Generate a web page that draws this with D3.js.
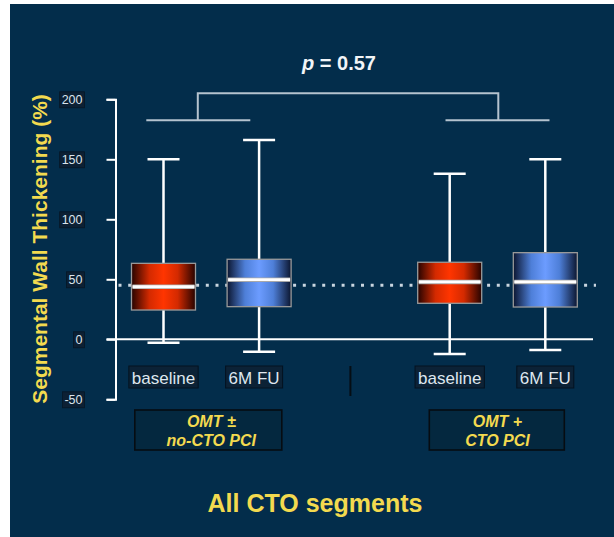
<!DOCTYPE html>
<html><head><meta charset="utf-8">
<script src="https://cdn.jsdelivr.net/npm/d3@7"></script>
<style>
html,body{margin:0;padding:0;background:#fff;}
svg{display:block;font-family:"Liberation Sans",Arial,sans-serif;}
</style></head>
<body><svg id="chart" width="614" height="537"></svg>
<script>
// ---- data ----
const groups = ["OMT ± no-CTO PCI", "OMT + CTO PCI"];
const groupLabelLines = [["OMT ±", "no-CTO PCI"], ["OMT +", "CTO PCI"]];
const conditions = ["baseline", "6M FU"];
const boxGroup = ["OMT ± no-CTO PCI", "OMT ± no-CTO PCI", "OMT + CTO PCI", "OMT + CTO PCI"];
const boxCondition = ["baseline", "6M FU", "baseline", "6M FU"];
const whiskerLow = [-2.8, -10.3, -12.2, -8.9];
const q1 = [24.4, 27.2, 30.0, 26.9];
const median = [43.8, 49.7, 47.8, 47.8];
const q3 = [63.3, 66.7, 64.2, 72.2];
const whiskerHigh = [150, 166, 138, 150];
const yTicks = [-50, 0, 50, 100, 150, 200];
const yTickLabels = ["-50", "0", "50", "100", "150", "200"];
const referenceValue = 45;
const pValue = "0.57";
const yTitle = "Segmental Wall Thickening (%)";
const chartTitle = "All CTO segments";

// ---- layout ----
const svg = d3.select("#chart");
const W = 614, H = 537;
const bg = "#032d4b";
const yellow = "#f3da4f";
svg.append("rect").attr("x", 10).attr("y", 4).attr("width", W - 10).attr("height", H - 4).attr("fill", bg);

const y = d3.scaleLinear().domain([-50, 200]).range([399.3, 99.3]);
const xg = d3.scalePoint().domain(groups).range([211.3, 497.5]);
const xc = d3.scalePoint().domain(conditions).range([-47.8, 47.8]);
const boxW = 64, capW = 32;
const cx = i => xg(boxGroup[i]) + xc(boxCondition[i]);
const axisX = 115.5;

// gradients
const defs = svg.append("defs");
function grad(id, edge, mid, center) {
  const g = defs.append("linearGradient").attr("id", id).attr("x1", "0").attr("x2", "1").attr("y1", "0").attr("y2", "0");
  [[0, edge], [0.28, mid], [0.5, center], [0.72, mid], [1, edge]].forEach(([o, c]) =>
    g.append("stop").attr("offset", o).attr("stop-color", c));
}
grad("gRed", "#260300", "#d42a00", "#ff3500");
grad("gBlue", "#0b1630", "#4e7fd8", "#6c9cff");

// dotted reference line
svg.append("line")
  .attr("x1", axisX + 3).attr("x2", 596)
  .attr("y1", y(referenceValue)).attr("y2", y(referenceValue))
  .attr("stroke", "#c9d5e0").attr("stroke-width", 3)
  .attr("stroke-dasharray", "3,6.7");

// y axis
const axis = d3.axisLeft(y).tickValues(yTicks)
  .tickFormat((d, i) => yTickLabels[i])
  .tickSize(9).tickSizeOuter(9).tickPadding(24);
const gA = svg.append("g").attr("transform", `translate(${axisX},0)`).call(axis);
gA.select(".domain").attr("stroke", "#fff").attr("stroke-width", 2).attr("fill", "none");
gA.selectAll(".tick line").attr("stroke", "#fff").attr("stroke-width", 2);
gA.selectAll(".tick text").attr("fill", "#dbe4ec").attr("font-size", 12.5)
  .attr("font-family", "'Liberation Sans',Arial,sans-serif");
gA.selectAll(".tick").each(function () {
  const t = d3.select(this).select("text");
  const b = t.node().getBBox();
  d3.select(this).insert("rect", "text")
    .attr("x", b.x - 2).attr("y", b.y - 1).attr("width", b.width + 4).attr("height", b.height + 2)
    .attr("fill", "#0c2034").attr("stroke", "#061726").attr("stroke-width", 0.8);
});

// zero line
svg.append("line").attr("x1", axisX - 9).attr("x2", 593)
  .attr("y1", y(0)).attr("y2", y(0)).attr("stroke", "#fff").attr("stroke-width", 2);

// boxplots
d3.range(median.length).forEach(i => {
  const g = svg.append("g");
  const c = cx(i);
  g.append("line").attr("x1", c).attr("x2", c).attr("y1", y(q3[i])).attr("y2", y(whiskerHigh[i]))
    .attr("stroke", "#fff").attr("stroke-width", 2.5);
  g.append("line").attr("x1", c).attr("x2", c).attr("y1", y(q1[i])).attr("y2", y(whiskerLow[i]))
    .attr("stroke", "#fff").attr("stroke-width", 2.5);
  [whiskerHigh[i], whiskerLow[i]].forEach(v =>
    g.append("line").attr("x1", c - capW / 2).attr("x2", c + capW / 2).attr("y1", y(v)).attr("y2", y(v))
      .attr("stroke", "#fff").attr("stroke-width", 2.5));
  g.append("rect").attr("x", c - boxW / 2).attr("y", y(q3[i])).attr("width", boxW)
    .attr("height", y(q1[i]) - y(q3[i]))
    .attr("fill", boxCondition[i] === "baseline" ? "url(#gRed)" : "url(#gBlue)")
    .attr("stroke", "#9a9a9a").attr("stroke-width", 1.3);
  g.append("line").attr("x1", c - boxW / 2 + 1).attr("x2", c + boxW / 2 - 1).attr("y1", y(median[i])).attr("y2", y(median[i]))
    .attr("stroke", "#a8a8a8").attr("stroke-width", 4.5);
  g.append("line").attr("x1", c - boxW / 2 + 1).attr("x2", c + boxW / 2 - 1).attr("y1", y(median[i])).attr("y2", y(median[i]))
    .attr("stroke", "#fff").attr("stroke-width", 2.8);
});

// condition labels
d3.range(median.length).forEach(i => {
  const c = cx(i) - (i === 1 ? 5 : 0);
  const g = svg.append("g");
  const t = g.append("text").attr("x", c).attr("y", 383.5).attr("text-anchor", "middle")
    .attr("font-size", 17).attr("fill", "#dfe7ef").text(boxCondition[i]);
  const b = t.node().getBBox();
  g.insert("rect", "text").attr("x", b.x - 3).attr("y", 366).attr("width", b.width + 6).attr("height", 22)
    .attr("fill", "#0c2236").attr("stroke", "#041220").attr("stroke-width", 1);
});

// separator
const midX = (xg(groups[0]) + xg(groups[1])) / 2 - 4;
svg.append("line").attr("x1", midX).attr("x2", midX).attr("y1", 366).attr("y2", 396)
  .attr("stroke", "#050d14").attr("stroke-width", 2);

// group label boxes
groups.forEach((gname, gi) => {
  const c = xg(gname);
  const bw = gi === 0 ? 147 : 135;
  const boxC = c - (gi === 0 ? 3 : 0.7);
  svg.append("rect").attr("x", boxC - bw / 2).attr("y", 410).attr("width", bw).attr("height", 40)
    .attr("fill", "#04283f").attr("stroke", "#060c12").attr("stroke-width", 1.6);
  groupLabelLines[gi].forEach((line, li) => {
    svg.append("text").attr("x", c).attr("y", 426.5 + li * 19).attr("text-anchor", "middle")
      .attr("font-size", 16).attr("font-weight", "bold").attr("font-style", "italic")
      .attr("fill", yellow).text(line);
  });
});

// significance bracket
const bracketY = 120.3, topY = 93.3;
const lx = xg(groups[0]), rx = xg(groups[1]);
const bStroke = "#b5c3cf";
svg.append("line").attr("x1", lx - 65).attr("x2", lx + 39).attr("y1", bracketY).attr("y2", bracketY).attr("stroke", bStroke).attr("stroke-width", 2);
svg.append("line").attr("x1", rx - 52).attr("x2", rx + 52).attr("y1", bracketY).attr("y2", bracketY).attr("stroke", bStroke).attr("stroke-width", 2);
svg.append("path").attr("d", `M${lx - 13.5},${bracketY} V${topY} H${rx + 0.8} V${bracketY}`)
  .attr("fill", "none").attr("stroke", bStroke).attr("stroke-width", 2);

const pt = svg.append("text").attr("x", 339).attr("y", 69.5).attr("text-anchor", "middle")
  .attr("font-size", 20).attr("font-weight", "bold").attr("fill", "#f2f5f8");
pt.append("tspan").attr("font-style", "italic").text("p");
pt.append("tspan").text(" = " + pValue);

// y title
svg.append("text").attr("transform", "translate(46.5,249) rotate(-90)").attr("text-anchor", "middle")
  .attr("font-size", 21).attr("font-weight", "bold").attr("fill", yellow).text(yTitle);

// chart title
svg.append("text").attr("x", 315).attr("y", 511.5).attr("text-anchor", "middle")
  .attr("font-size", 25).attr("font-weight", "bold").attr("fill", yellow).text(chartTitle);
</script></body></html>
